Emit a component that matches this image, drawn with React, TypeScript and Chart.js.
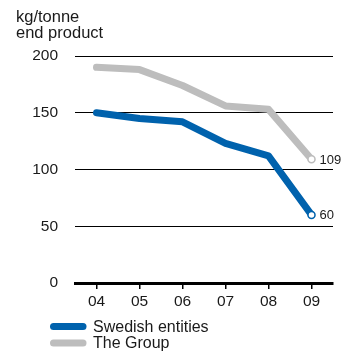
import React, { useEffect, useRef } from "react";
import { Chart, registerables } from "chart.js";

Chart.register(...registerables);

const years = ["04", "05", "06", "07", "08", "09"];
const swedish = [150, 145, 142, 123, 112, 60];
const group = [190, 188, 174, 156, 153, 109];
const yTicks = [0, 50, 100, 150, 200];
const titleLines = ["kg/tonne", "end product"];
const legendLabels = ["Swedish entities", "The Group"];

const BLUE = "#0062ad";
const GRAY = "#bdbdbd";
const TEXT = "#1a1a1a";
const FONT = "'Liberation Sans', Arial, Helvetica, sans-serif";

const overlay = {
  id: "overlay",
  afterDatasetsDraw(chart: any) {
    const ctx = chart.ctx;
    ctx.save();
    ctx.font = `13px ${FONT}`;
    ctx.fillStyle = TEXT;
    ctx.textBaseline = "middle";
    ctx.textAlign = "left";
    chart.data.datasets.forEach((ds: any, i: number) => {
      const meta = chart.getDatasetMeta(i);
      const last = meta.data[meta.data.length - 1];
      const v = ds.data[ds.data.length - 1];
      ctx.fillText(String(v), last.x + 8, last.y + 1);
    });
    ctx.restore();
  },
  afterDraw(chart: any) {
    const ctx = chart.ctx;
    ctx.save();
    ctx.fillStyle = TEXT;
    ctx.font = `16.5px ${FONT}`;
    ctx.textAlign = "left";
    ctx.textBaseline = "alphabetic";
    titleLines.forEach((t, i) => ctx.fillText(t, 16, 22 + i * 15.5));
    const colors = [BLUE, GRAY];
    ctx.font = `16px ${FONT}`;
    legendLabels.forEach((t, i) => {
      const y = 326.5 + i * 16.5;
      ctx.strokeStyle = colors[i];
      ctx.lineWidth = 7;
      ctx.lineCap = "round";
      ctx.beginPath();
      ctx.moveTo(53.5, y);
      ctx.lineTo(83, y);
      ctx.stroke();
      ctx.fillStyle = TEXT;
      ctx.textBaseline = "middle";
      ctx.fillText(t, 93, y + 1);
    });
    ctx.restore();
  },
};

export default function App() {
  const ref = useRef<HTMLCanvasElement>(null);
  useEffect(() => {
    if (!ref.current) return;
    const lastIdx = years.length - 1;
    const chart = new Chart(ref.current, {
      type: "line",
      data: {
        labels: years,
        datasets: [
          {
            label: legendLabels[0],
            data: swedish,
            borderColor: BLUE,
            borderWidth: 7,
            borderJoinStyle: "round",
            borderCapStyle: "round",
            pointRadius: (c: any) => (c.dataIndex === lastIdx ? 3.5 : 0),
            pointBackgroundColor: "#fff",
            pointBorderColor: BLUE,
            pointBorderWidth: 1.5,
            tension: 0,
          },
          {
            label: legendLabels[1],
            data: group,
            borderColor: GRAY,
            borderWidth: 7,
            borderJoinStyle: "round",
            borderCapStyle: "round",
            pointRadius: (c: any) => (c.dataIndex === lastIdx ? 3.5 : 0),
            pointBackgroundColor: "#fff",
            pointBorderColor: GRAY,
            pointBorderWidth: 1.5,
            tension: 0,
          },
        ],
      },
      options: {
        animation: false,
        responsive: true,
        maintainAspectRatio: false,
        layout: { padding: { top: 56, right: 29, bottom: 39, left: 0 } },
        plugins: { legend: { display: false }, tooltip: { enabled: false }, title: { display: false } },
        scales: {
          x: {
            type: "category",
            offset: true,
            afterFit: (s: any) => {
              s.height = 30;
            },
            grid: {
              display: true,
              drawOnChartArea: false,
              drawTicks: true,
              tickLength: 6,
              offset: false,
              color: "#000",
              lineWidth: 1.5,
            },
            border: { display: true, width: 3, color: "#000" },
            ticks: { color: TEXT, font: { size: 15.5, family: FONT }, padding: 3, maxRotation: 0 },
          },
          y: {
            min: 0,
            max: 200,
            afterFit: (s: any) => {
              s.width = 75;
            },
            afterBuildTicks: (s: any) => {
              s.ticks = yTicks.map((v) => ({ value: v }));
            },
            grid: {
              drawTicks: false,
              color: "#000",
              lineWidth: (c: any) => (c.tick && c.tick.value === 0 ? 0 : 1),
            },
            border: { display: false },
            ticks: { color: TEXT, font: { size: 15.5, family: FONT }, padding: 17 },
          },
        },
      },
      plugins: [overlay],
    } as any);
    return () => chart.destroy();
  }, []);
  return (
    <div style={{ position: "fixed", left: 0, top: 0, width: 362, height: 352, background: "#fff" }}>
      <canvas ref={ref} />
    </div>
  );
}
